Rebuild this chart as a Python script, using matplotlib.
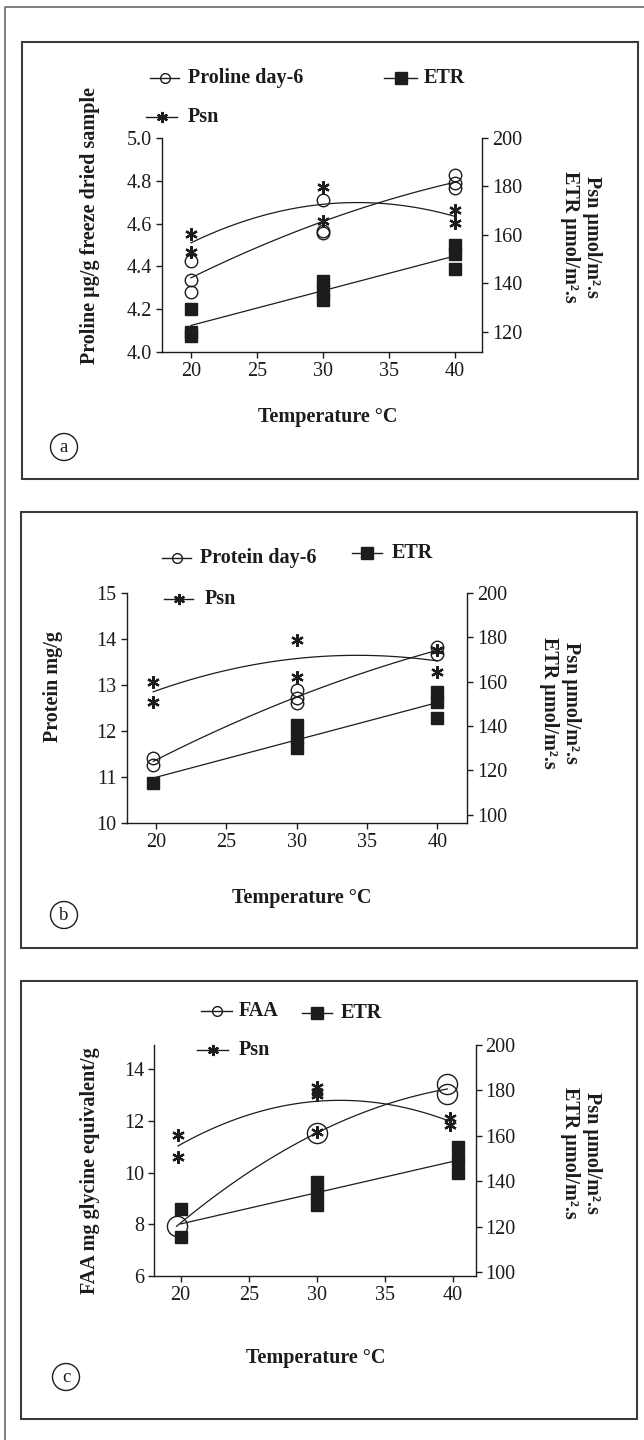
import numpy as np
import matplotlib
matplotlib.use("Agg")
import matplotlib.pyplot as plt
from matplotlib.lines import Line2D
from matplotlib.patches import Rectangle, Ellipse

W, H = 644, 1440
INK = "#1c1c1c"
plt.rcParams['font.family'] = ['Liberation Serif', 'DejaVu Serif']

# ---- panel a : proline ----
prol_x = [20, 20, 20, 30, 30, 30, 40, 40, 40]
prol_y = [4.425, 4.335, 4.28, 4.71, 4.565, 4.555, 4.825, 4.765, 4.79]
psn_a_x = [20, 20, 30, 30, 40, 40]
psn_a_y = [160.5, 153.0, 179.6, 165.7, 170.3, 165.0]
etr_a_x = [20, 20, 20, 30, 30, 30, 40, 40, 40]
etr_a_y = [129.5, 120.0, 118.5, 141.0, 137.0, 133.0, 156.0, 152.0, 146.0]

# ---- panel b : protein ----
prot_x = [19.8, 19.8, 30, 30, 30, 40, 40]
prot_y = [11.41, 11.27, 12.90, 12.72, 12.60, 13.83, 13.68]
psn_b_x = [19.8, 19.8, 30, 30, 40, 40]
psn_b_y = [160.0, 150.9, 178.9, 162.0, 164.2, 174.5]
etr_b_x = [19.8, 30, 30, 30, 40, 40, 40]
etr_b_y = [114.5, 140.5, 135.0, 130.0, 155.3, 150.9, 143.5]

# ---- panel c : free amino acids ----
faa_x = [19.7, 30, 39.6, 39.6]
faa_y = [7.92, 11.53, 13.41, 13.05]
psn_c_x = [19.8, 19.8, 30, 30, 30, 30, 39.8, 39.8]
psn_c_y = [160.2, 150.8, 181.5, 179.5, 178.0, 161.8, 168.0, 164.6]
etr_c_x = [20, 20, 30, 30, 30, 40.35, 40.35, 40.35]
etr_c_y = [127.7, 115.3, 139.6, 134.5, 129.3, 154.9, 149.5, 143.8]

temp_ticks = [20, 25, 30, 35, 40]

fig = plt.figure(figsize=(W / 100, H / 100), dpi=100)


def fx(px):
    return px / W


def fy(py):
    return 1 - py / H


circ = dict(marker='o', mfc='none', mec=INK, mew=1.0, ls='none')
sq = dict(marker='s', mfc=INK, mec=INK, ls='none')
star = dict(marker=(6, 2, 0), mec=INK, mfc=INK, mew=1.6, ls='none')

LAB = 14.5


def trend(ax, x, y, deg):
    x = np.asarray(x, float)
    y = np.asarray(y, float)
    c = np.polyfit(x, y, deg)
    xs = np.linspace(x.min(), x.max(), 100)
    ax.plot(xs, np.polyval(c, xs), color=INK, lw=0.9, zorder=2)


def panel(box, l, t, r, b, xlim, ylim, yticks, yfmt, ylim2,
          main, psn, etr, main_ms, left_lab, left_xy, right_xy, temp_xy, letter, letter_xy):
    # frame round the panel
    fig.add_artist(Rectangle((fx(box[0]), fy(box[3])), (box[2] - box[0]) / W,
                             (box[3] - box[1]) / H, transform=fig.transFigure,
                             fill=False, ec="#3a3a3a", lw=1.5))
    ax = fig.add_axes([fx(l), fy(b), (r - l) / W, (b - t) / H])
    ax2 = ax.twinx()
    for a in (ax, ax2):
        a.spines['top'].set_visible(False)
        for s in a.spines.values():
            s.set_color(INK)
            s.set_linewidth(1.0)
        a.tick_params(direction='out', length=4, width=1, colors=INK,
                      labelsize=14.5, pad=3)
    ax2.spines['left'].set_visible(False)
    ax2.spines['bottom'].set_visible(False)
    ax.spines['right'].set_visible(False)

    mx, my = main
    ax.plot(mx, my, ms=main_ms, zorder=4, **circ)
    trend(ax, mx, my, 2)
    ax.set_xlim(*xlim)
    ax.set_ylim(*ylim)
    ax.set_xticks(temp_ticks)
    ax.set_yticks(yticks)
    ax.set_yticklabels([yfmt.format(v) for v in yticks])

    px, py = psn
    ax2.plot(px, py, ms=9, zorder=4, **star)
    trend(ax2, px, py, 2)
    ex, ey = etr
    ax2.plot(ex, ey, ms=9, zorder=4, **sq)
    trend(ax2, ex, ey, 1)
    ax2.set_ylim(*ylim2)
    ax2.set_yticks([v for v in range(100, 201, 20) if v >= ylim2[0]])

    fig.text(fx(left_xy[0]), fy(left_xy[1]), left_lab, rotation=90, ha='center',
             va='center', fontsize=LAB, fontweight='bold', color=INK)
    fig.text(fx(right_xy[0]), fy(right_xy[1]),
             "Psn µmol/m².s\nETR µmol/m².s", rotation=270, ha='center',
             va='center', fontsize=LAB, fontweight='bold', color=INK,
             linespacing=1.1)
    fig.text(fx(temp_xy[0]), fy(temp_xy[1]), "Temperature °C", ha='center',
             va='center', fontsize=LAB, fontweight='bold', color=INK)
    fig.add_artist(Ellipse((fx(letter_xy[0]), fy(letter_xy[1])), 27 / W, 27 / H,
                           transform=fig.transFigure, fill=False, ec=INK, lw=1))
    fig.text(fx(letter_xy[0]), fy(letter_xy[1] + 1), letter, ha='center',
             va='center', fontsize=13.5, color=INK)


def key(x1, x2, y, tx, label, style, ms):
    xm = (x1 + x2) / 2
    st = dict(style)
    st.pop('ls')
    fig.add_artist(Line2D([fx(x1), fx(xm), fx(x2)], [fy(y)] * 3,
                          transform=fig.transFigure, color=INK, lw=1,
                          markevery=[1], ms=ms, **st))
    fig.text(fx(tx), fy(y), label, ha='left', va='center', fontsize=LAB,
             fontweight='bold', color=INK)


# outer frame
fig.add_artist(Line2D([fx(5), fx(5), fx(650)], [fy(1450), fy(7), fy(7)],
                      transform=fig.transFigure, color="#6a6a6a", lw=1.2))

panel((22, 42, 638, 479), 162, 138, 482, 352, (17.8, 42.05), (4.0, 5.0),
      [4.0, 4.2, 4.4, 4.6, 4.8, 5.0], "{:.1f}", (111.7, 200),
      (prol_x, prol_y), (psn_a_x, psn_a_y), (etr_a_x, etr_a_y), 9,
      "Proline µg/g freeze dried sample", (90, 226), (581, 237), (328, 417),
      "a", (64, 447))
key(150, 179, 78, 188, "Proline day-6", circ, 7)
key(384, 417, 78, 424, "ETR", sq, 9)
key(146, 177, 117, 188, "Psn", star, 8)

panel((21, 512, 637, 948), 126.5, 593, 467, 823, (17.9, 42.1), (10, 15),
      [10, 11, 12, 13, 14, 15], "{:.0f}", (96.3, 200),
      (prot_x, prot_y), (psn_b_x, psn_b_y), (etr_b_x, etr_b_y), 9,
      "Protein mg/g", (53, 686), (560, 703), (302, 898),
      "b", (64, 915))
key(162, 191, 558, 200, "Protein day-6", circ, 7)
key(352, 382, 553, 392, "ETR", sq, 9)
key(164, 193, 599, 205, "Psn", star, 8)

panel((21, 981, 637, 1419), 154, 1045, 475.5, 1276, (18.04, 41.66), (6, 14.93),
      [6, 8, 10, 12, 14], "{:.0f}", (98.2, 200),
      (faa_x, faa_y), (psn_c_x, psn_c_y), (etr_c_x, etr_c_y), 14.5,
      "FAA mg glycine equivalent/g", (90, 1171), (581, 1153), (316, 1358),
      "c", (66, 1377))
key(201, 232, 1011, 239, "FAA", circ, 7)
key(302, 332, 1013, 341, "ETR", sq, 9)
key(197, 228, 1050, 239, "Psn", star, 8)

fig.savefig("out.png", dpi=100)
